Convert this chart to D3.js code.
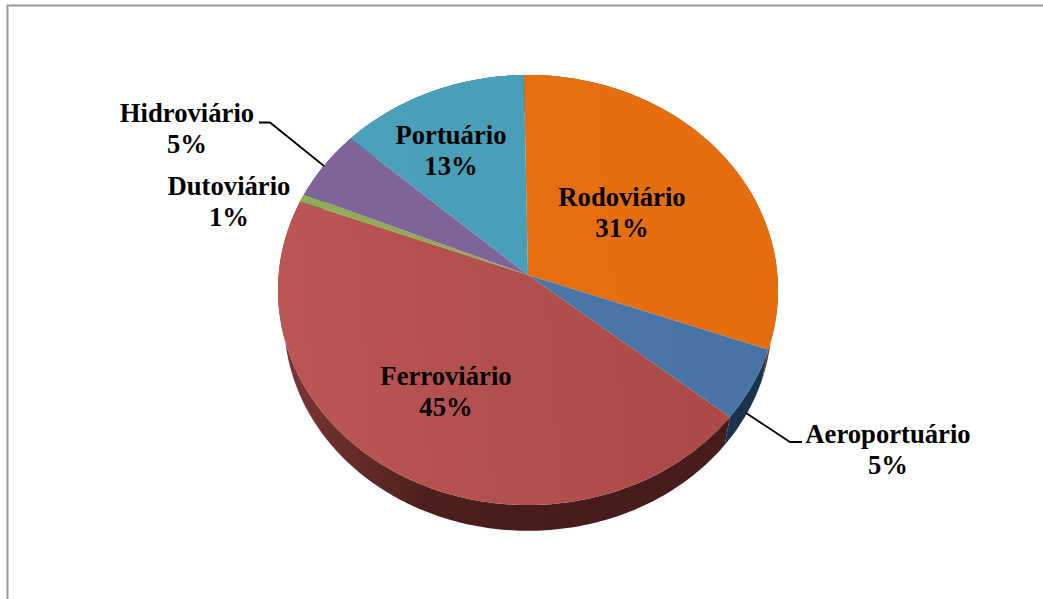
<!DOCTYPE html>
<html>
<head>
<meta charset="utf-8">
<script src="https://cdn.jsdelivr.net/npm/d3@7"></script>
<style>
  html, body { margin: 0; padding: 0; background: #fff; }
  svg { display: block; }
  text { font-family: "Liberation Serif", serif; font-weight: bold; font-size: 26.67px; fill: #000; text-anchor: middle; }
</style>
</head>
<body>
<div id="chart-area"></div>
<script>
// values (the printed labels are rounded)
var categories = ["Rodoviário", "Aeroportuário", "Ferroviário", "Dutoviário", "Hidroviário", "Portuário"];
var shares = [30.8, 5.4, 44.8, 0.6, 5.3, 13.1];
var shareLabels = ["31%", "5%", "45%", "1%", "5%", "13%"];
var topLight = ["#e8720f", "#4f7cae", "#ba5653", "#8fae55", "#80659b", "#4ba2ba"];
var topDark = ["#e56d0c", "#4672a4", "#a84745", "#8aa84f", "#7c6096", "#479bb4"];
var sideColors = ["#7a3c08", "#1a3450", "#481c1a", "#445426", "#3c2c4c", "#235060"];

var width = 1043, height = 599;

var svg = d3.select("#chart-area")
    .append("svg")
        .attr("width", width)
        .attr("height", height);

// chart frame: only top and left edges are in the crop
svg.append("path")
    .attr("d", "M7.5,599V5.5H1043")
    .attr("fill", "none")
    .attr("stroke", "#999")
    .attr("stroke-width", 2);

var pie = d3.pie()
    .sort(null)
    .startAngle(-1 * Math.PI / 180)
    .endAngle(359 * Math.PI / 180);
var arcs = pie(shares);

// the tilted pie: a unit disc seen in perspective, apex is not at the ellipse centre
var apex = [528, 275];
var radiusX = 249.4, radiusY = 214, tilt = -0.0698;

function project(angle, scale, drop) {
    var x = Math.sin(angle), y = -Math.cos(angle);
    var w = 1 + tilt * y;
    return [apex[0] + scale * radiusX * x / w, apex[1] + drop + scale * radiusY * y / w];
}

function rim(a0, a1, scale, drop) {
    var n = Math.max(2, Math.ceil((a1 - a0) * 60));
    return d3.range(n + 1).map(function(i) {
        return project(a0 + (a1 - a0) * i / n, scale, drop);
    });
}

var line = d3.line();
var defs = svg.append("defs");

// side wall first, top face goes over it
var sideGrad = defs.append("linearGradient")
    .attr("id", "side-red")
    .attr("gradientUnits", "userSpaceOnUse")
    .attr("x1", 285).attr("x2", 540).attr("y1", 0).attr("y2", 0);
sideGrad.append("stop").attr("offset", 0).attr("stop-color", "#7a3634");
sideGrad.append("stop").attr("offset", 0.55).attr("stop-color", "#4e201d");
sideGrad.append("stop").attr("offset", 1).attr("stop-color", "#471c1a");

var wallScale = 0.975, wallDrop = 31.5;

svg.append("g").selectAll("path")
    .data(arcs)
    .enter()
    .append("path")
        .attr("d", function(d) {
            var upper = rim(d.startAngle, d.endAngle, 1, 0);
            var lower = rim(d.startAngle, d.endAngle, wallScale, wallDrop).reverse();
            return line(upper.concat(lower)) + "Z";
        })
        .attr("fill", function(d, i) {
            return i == 2 ? "url(#side-red)" : sideColors[i];
        });

// soft left-to-right shading on each top slice
arcs.forEach(function(d, i) {
    var grad = defs.append("linearGradient")
        .attr("id", "top-" + i)
        .attr("gradientUnits", "userSpaceOnUse")
        .attr("x1", 278).attr("x2", 778).attr("y1", 300).attr("y2", 260);
    grad.append("stop").attr("offset", 0).attr("stop-color", topLight[i]);
    grad.append("stop").attr("offset", 1).attr("stop-color", topDark[i]);
});

svg.append("g").selectAll("path")
    .data(arcs)
    .enter()
    .append("path")
        .attr("d", function(d) {
            return line([apex].concat(rim(d.startAngle, d.endAngle, 1, 0))) + "Z";
        })
        .attr("fill", function(d, i) { return "url(#top-" + i + ")"; });

// leader lines: label end, elbow, then the point on the pie edge
var leaders = [
    { slice: 1, from: [802, 442], elbow: [790, 442], to: [746, 413] },
    { slice: 4, from: [259, 122.5], elbow: [270, 122.5], to: [324, 166] }
];

svg.append("g").selectAll("path")
    .data(leaders)
    .enter()
    .append("path")
        .attr("d", function(d) { return line([d.from, d.elbow, d.to]); })
        .attr("fill", "none")
        .attr("stroke", "#000")
        .attr("stroke-width", 1.8);

// label centres in the same order as categories
var labelX = [622, 888, 446, 229, 187, 451];
var labelY = [206, 443, 385, 195, 122, 144];

var labels = svg.append("g").selectAll("text")
    .data(categories)
    .enter()
    .append("text")
        .attr("x", function(d, i) { return labelX[i]; })
        .attr("y", function(d, i) { return labelY[i]; });

labels.append("tspan")
    .text(function(d) { return d; });
labels.append("tspan")
    .attr("x", function(d, i) { return labelX[i]; })
    .attr("dy", 30.5)
    .text(function(d, i) { return shareLabels[i]; });
</script>
</body>
</html>
